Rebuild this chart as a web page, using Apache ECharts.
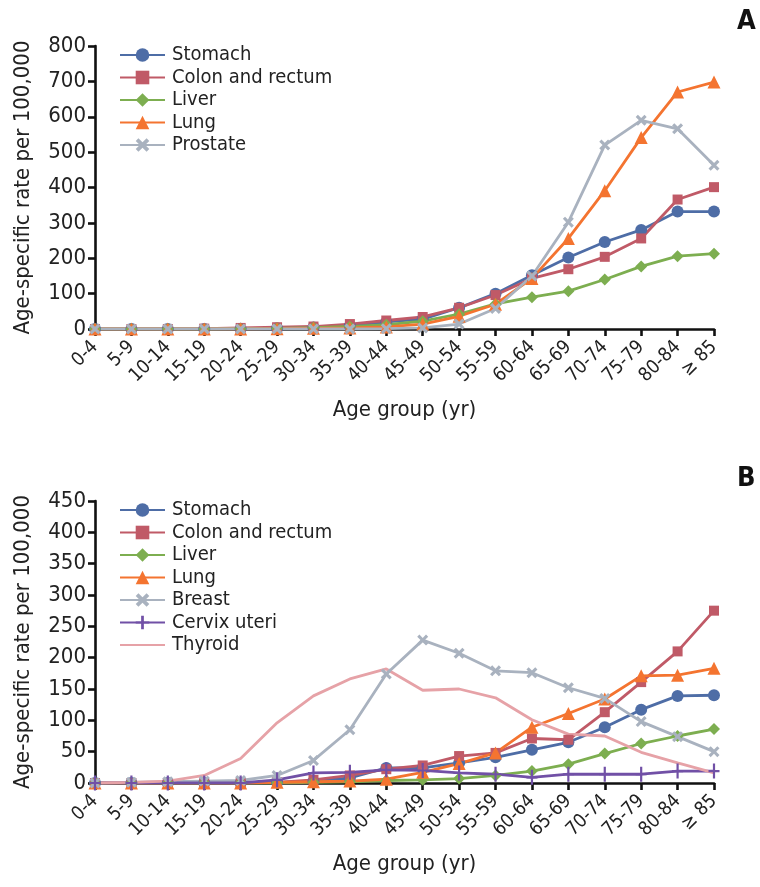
<!DOCTYPE html>
<html>
<head>
<meta charset="utf-8">
<script src="https://cdn.jsdelivr.net/npm/echarts@6/dist/echarts.min.js"></script>
<style>
html,body{margin:0;padding:0;background:#fff;}
#chart{width:760px;height:887px;}
</style>
</head>
<body>
<div id="chart"></div>
<script>
const ageGroups = ['0-4','5-9','10-14','15-19','20-24','25-29','30-34','35-39','40-44','45-49','50-54','55-59','60-64','65-69','70-74','75-79','80-84','\u2265 85'];

// Panel A (male)
const stomachA  = [0,0,0,0,1,2,4,9,20,28,60,100,152,202,246,280,332,332];
const colonA    = [0,0,0,1,3,5,7,14,24,34,60,96,143,169,204,256,366,401];
const liverA    = [0,0,0,0,1,2,4,7,12,22,42,71,90,107,140,177,206,213];
const lungA     = [0,0,0,0,0,1,2,3,6,14,36,70,143,256,391,541,670,698];
const prostateA = [0,0,0,0,0,0,0,0,1,3,14,58,150,302,520,590,566,463];

// Panel B (female)
const stomachB = [0,0,0,0,0,1,3,8,24,24,32,41,53,65,89,117,139,140];
const colonB   = [0,0,0,0,0,1,5,12,22,28,43,48,71,69,113,161,210,275];
const liverB   = [0,0,0,0,0,0,1,2,4,5,7,12,19,30,47,63,75,86];
const lungB    = [0,0,0,0,0,1,2,3,6,17,31,48,89,111,134,171,172,183];
const breastB  = [0,1,2,3,4,12,36,85,174,228,207,179,176,152,135,98,74,50];
const cervixB  = [0,0,0,0,0,5,16,17,21,20,16,14,9,14,14,14,19,19];
const thyroidB = [0,1,3,12,39,96,139,166,182,148,150,136,101,78,75,49,32,16];

const yTicksA = {min:0, max:800, interval:100};
const yTicksB = {min:0, max:450, interval:50};

const FONT = "'DejaVu Sans Condensed','Liberation Sans Narrow','Roboto',sans-serif";
const C = {
  stomach:'#4E6DA6', colon:'#C05A67', liver:'#7DAE50', lung:'#F47430',
  gray:'#A9B2BF', cervix:'#7150A6', thyroid:'#E6A2A7'
};
const X_SYM = 'path://M2,0 L5,3 L8,0 L10,2 L7,5 L10,8 L8,10 L5,7 L2,10 L0,8 L3,5 L0,2 Z';
const PLUS_SYM = 'path://M4,0 L6,0 L6,4.3 L10,4.3 L10,5.7 L6,5.7 L6,10 L4,10 L4,5.7 L0,5.7 L0,4.3 L4,4.3 Z';

function mk(name, data, color, symbol, size, idx){
  return {
    name, type:'line', data, xAxisIndex:idx, yAxisIndex:idx,
    symbol: symbol || 'none', symbolSize:size, showSymbol: !!symbol,
    lineStyle:{color, width:2.8}, itemStyle:{color},
    z: 3
  };
}

const axisLine = {show:true, onZero:false, lineStyle:{color:'#111', width:2.6}};

function xAxis(idx){
  return {
    type:'category', gridIndex:idx, data:ageGroups, boundaryGap:false,
    axisLine, splitLine:{show:false},
    axisTick:{show:true, interval:0, length:7, lineStyle:{color:'#111', width:2.6}},
    axisLabel:{rotate:45, fontSize:19, color:'#222', fontFamily:FONT, margin:15, interval:0},
    name:'Age group (yr)', nameLocation:'middle', nameGap:70,
    nameTextStyle:{fontSize:22, color:'#222', fontFamily:FONT}
  };
}
function yAxis(idx, t){
  return {
    type:'value', gridIndex:idx, min:t.min, max:t.max, interval:t.interval,
    axisLine, splitLine:{show:false},
    axisTick:{show:true, length:7, lineStyle:{color:'#111', width:2.6}},
    axisLabel:{fontSize:22, color:'#222', fontFamily:FONT, margin:9},
    name:'Age-specific rate per 100,000', nameLocation:'middle', nameGap:61,
    nameTextStyle:{fontSize:22, color:'#222', fontFamily:FONT}
  };
}

const legendCommon = {
  orient:'vertical', left:114, itemWidth:45, itemHeight:17, itemGap:2.5,
  textStyle:{fontSize:20, color:'#222', fontFamily:FONT, padding:[0,0,0,2]}
};

const option = {
  animation:false,
  backgroundColor:'#fff',
  grid:[
    {left:95, right:46, top:46, height:283},
    {left:95, right:46, top:501, height:282}
  ],
  xAxis:[xAxis(0), xAxis(1)],
  yAxis:[yAxis(0, yTicksA), yAxis(1, yTicksB)],
  legend:[
    Object.assign({}, legendCommon, {top:40, data:['Stomach','Colon and rectum','Liver','Lung','Prostate']}),
    Object.assign({}, legendCommon, {top:495, data:['Stomach ','Colon and rectum ','Liver ','Lung ','Breast','Cervix uteri',
      {name:'Thyroid', itemStyle:{color:'rgba(0,0,0,0)', borderWidth:0, opacity:0}}]})
  ],
  graphic:[
    {type:'text', left:737, top:8, style:{text:'A', fontSize:27, fontWeight:'bold', fill:'#111', fontFamily:FONT}},
    {type:'text', left:737, top:465, style:{text:'B', fontSize:27, fontWeight:'bold', fill:'#111', fontFamily:FONT}}
  ],
  series:[
    mk('Stomach', stomachA, C.stomach, 'circle', 12, 0),
    mk('Colon and rectum', colonA, C.colon, 'rect', 10, 0),
    mk('Liver', liverA, C.liver, 'diamond', 12, 0),
    mk('Lung', lungA, C.lung, 'triangle', 13, 0),
    mk('Prostate', prostateA, C.gray, X_SYM, 11, 0),

    mk('Stomach ', stomachB, C.stomach, 'circle', 12, 1),
    mk('Colon and rectum ', colonB, C.colon, 'rect', 10, 1),
    mk('Liver ', liverB, C.liver, 'diamond', 12, 1),
    mk('Lung ', lungB, C.lung, 'triangle', 13, 1),
    mk('Breast', breastB, C.gray, X_SYM, 11, 1),
    mk('Cervix uteri', cervixB, C.cervix, PLUS_SYM, [11,15], 1),
    mk('Thyroid', thyroidB, C.thyroid, null, 0, 1)
  ]
};

const chart = echarts.init(document.getElementById('chart'), null, {renderer:'canvas'});
chart.setOption(option);
</script>
</body>
</html>
